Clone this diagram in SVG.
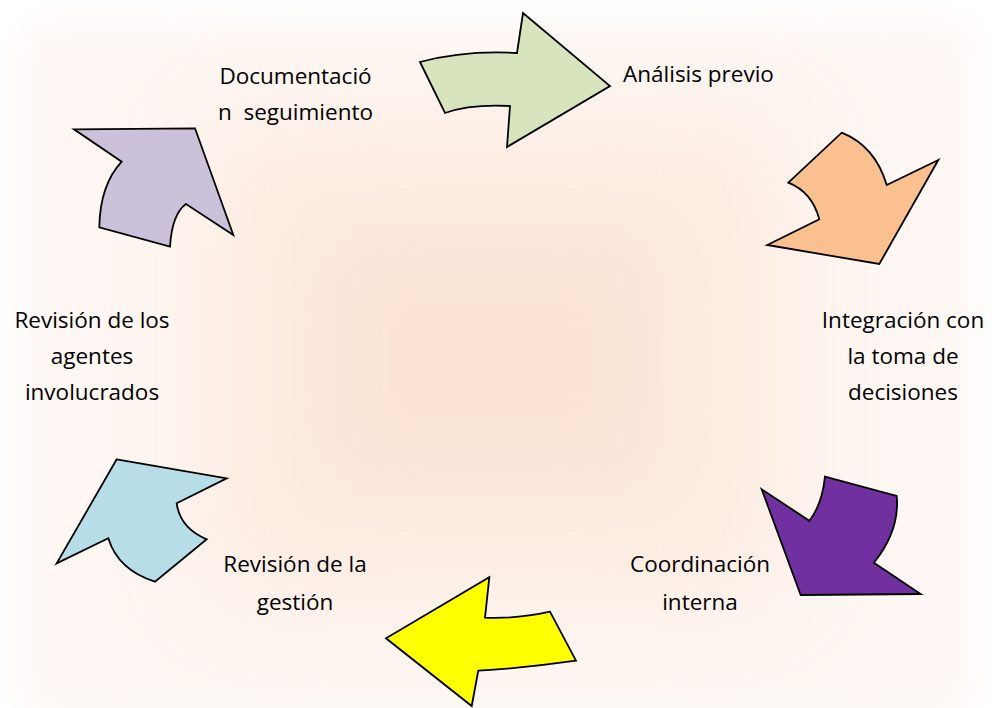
<svg xmlns="http://www.w3.org/2000/svg" width="992" height="708" viewBox="0 0 992 708">
  <defs>
    <filter id="b1" x="-20%" y="-20%" width="140%" height="140%"><feGaussianBlur stdDeviation="18"/></filter>
    <filter id="b2" x="-50%" y="-50%" width="200%" height="200%"><feGaussianBlur stdDeviation="55"/></filter>
    <filter id="b3" x="-50%" y="-50%" width="200%" height="200%"><feGaussianBlur stdDeviation="40"/></filter>
  </defs>
  <style>
    .arrow { stroke: #000000; stroke-width: 1.8; stroke-linejoin: miter; }
    .lbl { font-family: "Open Sans", "Noto Sans", sans-serif; font-size: 22.5px; fill: #000000; }
  </style>
  <rect x="0" y="0" width="992" height="708" fill="#ffffff"/>
  <rect x="25" y="25" width="945" height="690" fill="#fef7f3" filter="url(#b1)"/>
  <rect x="200" y="120" width="590" height="480" fill="#fcebe0" filter="url(#b2)"/>
  <rect x="330" y="240" width="320" height="240" fill="#fbe4d5" filter="url(#b3)"/>

  <g id="connectors">
    <path id="a1" class="arrow" fill="#d7e4bd" d="M420,62 Q465,50 517,53 L523,13 L610,86 L507,147 L510,106 Q470,104 445,113 Z"/>
    <path id="a2" class="arrow" fill="#fac090" d="M841.7,132.7 Q875,146 886.7,185 L938.3,160 L879.3,264 L767.3,245 L819.3,219.3 Q812,192 788.3,182.7 Z"/>
    <path id="a3" class="arrow" fill="#7030a0" d="M825,476.7 L896.7,496 Q900,530 874,562.7 L920.7,594 L800.7,595 L761.7,489.3 L809.3,520.7 Q822,505 825,476.7 Z"/>
    <path id="a4" class="arrow" fill="#ffff00" d="M489.3,577.3 L485,617.7 Q518,619 550,611.7 L576,660.7 Q525,668 478.3,670.7 L471.7,706 L386,638.3 Z"/>
    <path id="a5" class="arrow" fill="#b7dee8" d="M116.7,459.3 L226.7,478.3 L176.7,503.3 Q180,528 206.7,539.3 L155,581.7 Q118,570 108.3,538.3 L56.7,563.3 Z"/>
    <path id="a6" class="arrow" fill="#ccc1da" d="M74,129.3 L195,128.3 L233.3,235 L186,204 Q172,214 170,246.7 L99.3,227.3 Q100,185 121.7,161.7 Z"/>
  </g>

  <g id="n1">
    <text class="lbl" x="623" y="82">Análisis previo</text>
  </g>
  <g id="n2">
    <text class="lbl" x="903" y="328" text-anchor="middle">Integración con</text>
    <text class="lbl" x="903" y="364" text-anchor="middle">la toma de</text>
    <text class="lbl" x="903" y="400" text-anchor="middle">decisiones</text>
  </g>
  <g id="n3">
    <text class="lbl" x="700" y="572" text-anchor="middle">Coordinación</text>
    <text class="lbl" x="700" y="610" text-anchor="middle">interna</text>
  </g>
  <g id="n4">
    <text class="lbl" x="295" y="572" text-anchor="middle">Revisión de la</text>
    <text class="lbl" x="295" y="610" text-anchor="middle">gestión</text>
  </g>
  <g id="n5">
    <text class="lbl" x="92" y="328" text-anchor="middle">Revisión de los</text>
    <text class="lbl" x="92" y="364" text-anchor="middle">agentes</text>
    <text class="lbl" x="92" y="400" text-anchor="middle">involucrados</text>
  </g>
  <g id="n6">
    <text class="lbl" x="295.5" y="84" text-anchor="middle">Documentació</text>
    <text class="lbl" x="295.5" y="120" text-anchor="middle" xml:space="preserve">n  seguimiento</text>
  </g>
</svg>
